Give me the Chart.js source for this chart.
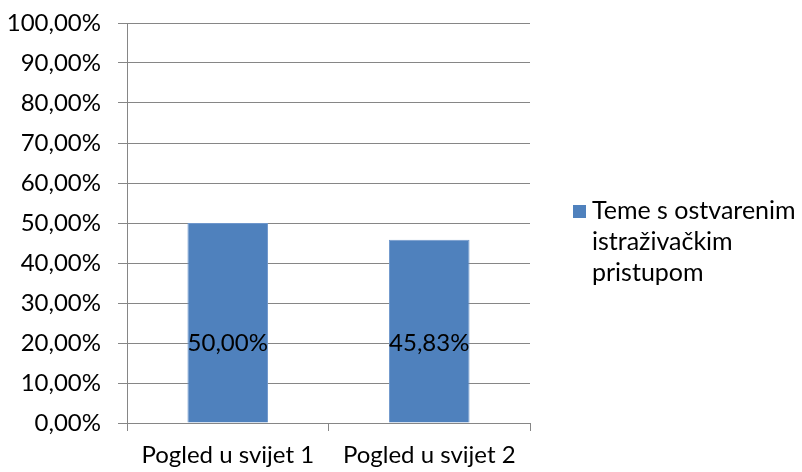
<!DOCTYPE html>
<html>
<head>
<meta charset="utf-8">
<script src="https://cdn.jsdelivr.net/npm/chart.js@4"></script>
<style>
  html, body { margin: 0; padding: 0; background: #fff; }
  #wrap { width: 802px; height: 472px; }
</style>
</head>
<body>
<div id="wrap"><canvas id="chart" width="802" height="472"></canvas></div>
<script>
// data
const categories = ['Pogled u svijet 1', 'Pogled u svijet 2'];
const seriesName = 'Teme s ostvarenim istraživačkim pristupom';
const legendLines = ['Teme s ostvarenim', 'istraživačkim', 'pristupom'];
const values = [50.00, 45.83];
const yTicks = [0, 10, 20, 30, 40, 50, 60, 70, 80, 90, 100];

const FONT = 'Lato, "Open Sans", sans-serif';
const SIZE = 24;
const fmt = v => v.toFixed(2).replace('.', ',') + '%';

// value labels inside the bars
const barLabels = {
    id: 'barLabels',
    afterDatasetsDraw(chart) {
        const ctx = chart.ctx;
        const y = chart.scales.y;
        ctx.save();
        ctx.font = SIZE + 'px ' + FONT;
        ctx.fillStyle = '#000';
        ctx.textAlign = 'center';
        ctx.textBaseline = 'middle';
        chart.getDatasetMeta(0).data.forEach((bar, i) => {
            ctx.fillText(fmt(values[i]), bar.x, y.getPixelForValue(20));
        });
        ctx.restore();
    }
};

// legend on the right, wrapped like the original
const sideLegend = {
    id: 'sideLegend',
    afterDraw(chart) {
        const ctx = chart.ctx;
        const area = chart.chartArea;
        const x = area.right + 43;
        const top = 211;
        ctx.save();
        ctx.fillStyle = chart.data.datasets[0].backgroundColor;
        ctx.fillRect(x, top - 6, 13, 13);
        ctx.font = '25px ' + FONT;
        ctx.fillStyle = '#000';
        ctx.textAlign = 'left';
        ctx.textBaseline = 'middle';
        legendLines.forEach((line, i) => {
            ctx.fillText(line, x + 19, top + i * 31);
        });
        ctx.restore();
    }
};

new Chart(document.getElementById('chart'), {
    type: 'bar',
    data: {
        labels: categories,
        datasets: [{
            label: seriesName,
            data: values,
            backgroundColor: '#4F81BD',
            borderColor: '#6F97CC',
            borderWidth: 1,
            categoryPercentage: 1,
            barPercentage: 0.4
        }]
    },
    options: {
        responsive: false,
        animation: false,
        layout: { padding: { top: 23, right: 272, bottom: 0, left: 0 } },
        plugins: {
            legend: { display: false },
            tooltip: { enabled: false }
        },
        scales: {
            x: {
                offset: true,
                grid: {
                    offset: true,
                    drawOnChartArea: false,
                    color: '#868686',
                    tickLength: 8
                },
                border: { color: '#868686' },
                ticks: { color: '#000', font: { family: FONT, size: SIZE }, padding: 10, maxRotation: 0 },
                afterFit(s) { s.height = 49; s.paddingLeft = 0; s.paddingRight = 0; }
            },
            y: {
                min: 0,
                max: 100,
                afterBuildTicks(s) { s.ticks = yTicks.map(v => ({ value: v })); },
                grid: { color: '#868686', tickLength: 9 },
                border: { color: '#868686' },
                ticks: {
                    color: '#000',
                    font: { family: FONT, size: SIZE },
                    padding: 17,
                    callback: v => fmt(v)
                },
                afterFit(s) { s.width = 127; s.paddingTop = 0; s.paddingBottom = 0; }
            }
        }
    },
    plugins: [barLabels, sideLegend]
});
</script>
</body>
</html>
